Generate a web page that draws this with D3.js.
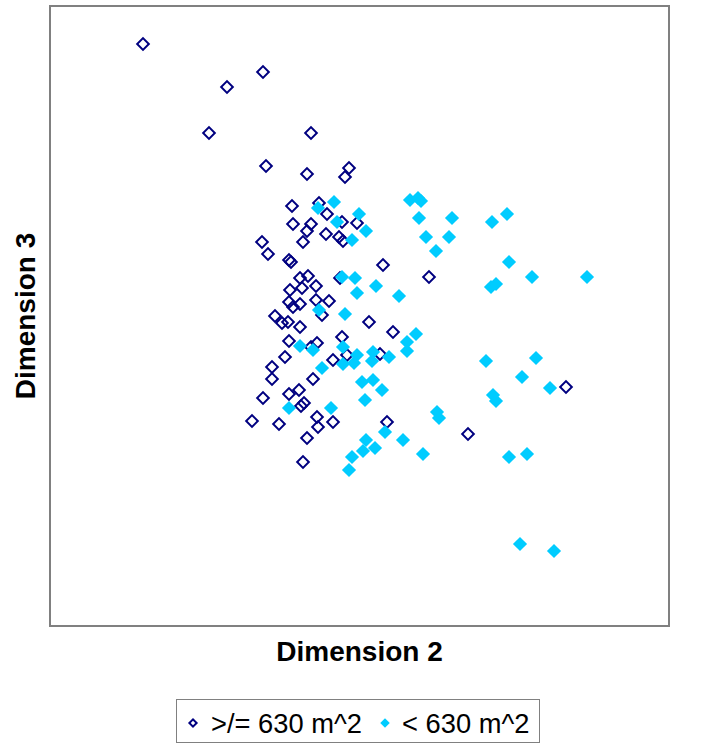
<!DOCTYPE html>
<html><head><meta charset="utf-8">
<script src="https://cdn.jsdelivr.net/npm/d3@7"></script>
<style>body{margin:0;background:#fff}svg{display:block}</style>
</head><body>
<svg id="c" width="709" height="744"></svg>
<script>
// Dimension 2 (x) / Dimension 3 (y) scores
const seriesNames = [">/= 630 m^2", "< 630 m^2"];
const xTitle = "Dimension 2";
const yTitle = "Dimension 3";
const large = [
[-21.7,27.2],[-9.7,24.4],[-13.3,22.9],[-15.1,18.3],[-4.9,18.3],[-9.4,15.0],[-5.3,14.2],[-1.1,14.8],[-1.5,13.9],
[-6.8,11.0],[-4.1,11.3],[-3.3,10.2],[-1.8,9.4],[-0.3,9.3],[-6.7,9.2],[-4.9,9.2],[-5.3,8.5],[-3.4,8.2],[-2.1,7.9],
[-1.7,7.5],[-5.7,7.4],[-9.8,7.4],[-9.2,6.2],[-7.1,5.6],[-6.9,5.4],[2.3,5.1],[6.9,3.9],[-6.0,3.8],[-5.2,4.0],
[-2.0,3.8],[-4.4,3.0],[-7.0,2.6],[-5.8,2.8],[-7.1,1.4],[-6.7,0.9],[-6.0,1.2],[-4.4,1.6],[-3.1,1.5],[-3.8,0.1],
[-8.5,0.0],[-7.8,-0.7],[-7.2,-0.6],[-6.0,-1.1],[0.9,-0.6],[3.3,-1.6],[-7.1,-2.5],[-4.3,-2.7],[-1.8,-2.1],[-1.3,-3.9],
[-2.7,-4.4],[-7.5,-4.1],[-8.8,-5.1],[2.0,-3.8],[-4.9,-3.1],[-8.8,-6.3],[-4.7,-6.3],[-9.7,-8.2],[-7.1,-7.8],[-6.1,-7.4],
[-5.9,-9.0],[-5.6,-8.7],[-10.8,-10.5],[-8.1,-10.8],[-4.3,-10.1],[-4.2,-11.1],[-2.7,-10.6],[-5.3,-12.2],[-5.7,-14.6],
[2.7,-10.6],[20.6,-7.1],[10.8,-11.8]
];
const small = [
[-2.6,11.4],[-4.2,10.8],[-0.1,10.2],[-2.3,9.4],[0.6,8.5],[-0.8,7.6],[5.0,11.6],[5.8,11.8],[6.1,11.5],[5.9,9.8],
[9.2,9.8],[6.6,7.9],[8.9,7.9],[7.6,6.5],[13.2,9.4],[14.7,10.2],[14.9,5.4],[17.2,3.9],[22.7,3.9],[13.1,2.9],
[13.6,3.2],[-1.8,3.9],[-0.5,3.8],[-0.3,2.3],[1.6,3.0],[3.9,2.0],[-4.1,0.6],[-1.5,0.2],[5.6,-1.8],[4.7,-2.6],
[4.7,-3.5],[-6.0,-3.0],[-4.7,-3.4],[-1.7,-3.1],[-1.7,-4.8],[-0.3,-3.9],[-0.6,-4.7],[1.3,-3.6],[1.2,-4.5],[2.9,-4.1],
[-3.8,-5.2],[0.2,-6.6],[1.3,-6.4],[2.2,-7.4],[0.5,-8.4],[-7.1,-9.2],[-2.9,-9.2],[2.5,-11.6],[0.6,-12.4],[0.3,-13.5],
[1.5,-13.2],[4.3,-12.4],[-0.8,-14.1],[-1.1,-15.4],[6.3,-13.8],[12.6,-4.5],[17.6,-4.2],[16.2,-6.1],[19.0,-7.2],
[13.3,-7.9],[13.6,-8.5],[7.7,-9.6],[7.9,-10.2],[14.9,-14.1],[16.7,-13.8],[16.0,-22.8],[19.4,-23.5]
];
const xDomain = [-31, 30.9];
const yDomain = [-31, 31];

const svg = d3.select("#c");
const L = 50, R = 669, T = 6, B = 626;
const x = d3.scaleLinear().domain(xDomain).range([L, R]);
const y = d3.scaleLinear().domain(yDomain).range([B, T]);
const navy = "#000080", cyan = "#00CCFF";

svg.append("rect").attr("x", L).attr("y", T).attr("width", R - L).attr("height", B - T)
  .attr("fill", "#fff").attr("stroke", "#808080").attr("stroke-width", 2);

const openSym = d3.symbol().type(d3.symbolSquare).size(68)();
const fillSym = d3.symbol().type(d3.symbolSquare).size(100)();

svg.append("g").selectAll("path").data(large).join("path")
  .attr("d", openSym)
  .attr("transform", d => `translate(${x(d[0])},${y(d[1])}) rotate(45)`)
  .attr("fill", "none").attr("stroke", navy).attr("stroke-width", 2);

svg.append("g").selectAll("path").data(small).join("path")
  .attr("d", fillSym)
  .attr("transform", d => `translate(${x(d[0])},${y(d[1])}) rotate(45)`)
  .attr("fill", cyan);

const font = "Liberation Sans, Arial, sans-serif";
svg.append("text").attr("x", (L + R) / 2).attr("y", 661).attr("text-anchor", "middle")
  .attr("font-family", font).attr("font-weight", "bold").attr("font-size", 28).text(xTitle);
svg.append("text").attr("transform", `translate(35,${(T + B) / 2}) rotate(-90)`).attr("text-anchor", "middle")
  .attr("font-family", font).attr("font-weight", "bold").attr("font-size", 28).text(yTitle);

// legend
const lg = svg.append("g");
lg.append("rect").attr("x", 176.5).attr("y", 699.5).attr("width", 363).attr("height", 43)
  .attr("fill", "#fff").attr("stroke", "#808080").attr("stroke-width", 1);
lg.append("path").attr("d", d3.symbol().type(d3.symbolSquare).size(26)())
  .attr("transform", "translate(193,723) rotate(45)")
  .attr("fill", "none").attr("stroke", navy).attr("stroke-width", 2);
lg.append("text").attr("x", 211).attr("y", 733).attr("font-family", font).attr("font-size", 27.3).text(seriesNames[0]);
lg.append("path").attr("d", d3.symbol().type(d3.symbolSquare).size(45)())
  .attr("transform", "translate(385,723) rotate(45)").attr("fill", cyan);
lg.append("text").attr("x", 402).attr("y", 733).attr("font-family", font).attr("font-size", 27.3).text(seriesNames[1]);
</script>
</body></html>
